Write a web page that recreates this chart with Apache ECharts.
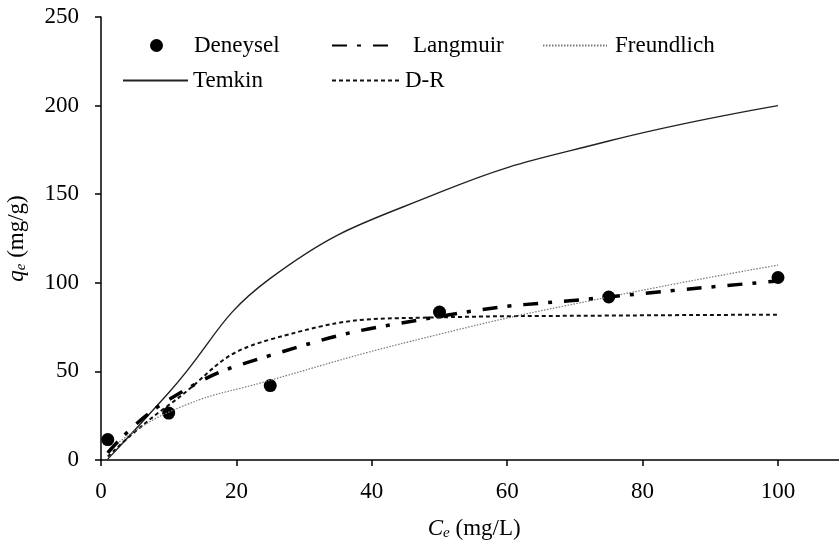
<!DOCTYPE html>
<html>
<head>
<meta charset="utf-8">
<script src="https://cdn.jsdelivr.net/npm/echarts@6/dist/echarts.min.js"></script>
<style>
  html, body { margin: 0; padding: 0; background: #fff; }
  #chart { width: 839px; height: 545px; }
</style>
</head>
<body>
<div id="chart"></div>
<script>
// Equilibrium concentration Ce (mg/L)
const ceValues = [1, 10, 25, 50, 75, 100];
// Measured uptake qe (mg/g)
const deneysel = [11.5, 26.5, 42, 83.5, 92, 103];
// Isotherm model curves at the same Ce values
const langmuir = [4, 34, 59, 81, 92, 101];
const freundlich = [5, 27, 45, 71, 92, 110];
const temkin = [0.5, 38, 102.5, 151, 180, 200];
const dr = [2, 31, 68, 80.5, 81.5, 82];

const xTicks = { min: 0, max: 120, interval: 20 };
const yTicks = { min: 0, max: 250, interval: 50 };

const FONT = "'Liberation Serif', 'Times New Roman', serif";
const FS = 23;
const pair = (ys) => ceValues.map((x, i) => [x, ys[i]]);

const chart = echarts.init(document.getElementById('chart'), null, { renderer: 'canvas' });

// one legend block per entry so each can sit where it belongs
function legendAt(name, left, top, w, textPad, isLine) {
  const lg = {
    data: [name], left: left, top: top, itemWidth: w, itemHeight: 13,
    padding: 0, selectedMode: false,
    textStyle: { fontFamily: FONT, fontSize: FS, color: '#000', padding: [0, 0, 0, textPad] }
  };
  if (isLine) lg.itemStyle = { opacity: 0 };
  return lg;
}

const axisLine = { show: true, lineStyle: { color: '#000', width: 1.5 } };
const axisTick = { show: true, inside: false, length: 6, lineStyle: { color: '#000', width: 1.5 } };
const subRich = {
  i: { fontFamily: FONT, fontSize: FS, fontStyle: 'italic' },
  s: { fontFamily: FONT, fontSize: 15, fontStyle: 'italic', verticalAlign: 'bottom', padding: [10, 0, 0, 0] }
};

chart.setOption({
  animation: false,
  backgroundColor: '#fff',
  grid: { left: 101, top: 17, width: 812.4, height: 443, containLabel: false, outerBoundsMode: 'none' },
  legend: [
    legendAt('Deneysel', 150, 34, 13, 26, false),
    legendAt('Langmuir', 331, 34, 58, 18, true),
    legendAt('Freundlich', 542, 34, 64, 3, true),
    legendAt('Temkin', 122, 69, 65, 0, true),
    legendAt('D-R', 331, 69, 68, 0, true)
  ],
  xAxis: {
    type: 'value', min: xTicks.min, max: xTicks.max, interval: xTicks.interval,
    axisLine: axisLine, axisTick: axisTick, splitLine: { show: false },
    axisLabel: { fontFamily: FONT, fontSize: FS, color: '#000', margin: 20 },
    name: '{i|C}{s|e} (mg/L)', nameLocation: 'middle', nameGap: 56,
    nameTextStyle: { fontFamily: FONT, fontSize: FS, color: '#000', rich: subRich, padding: [0, 66, 0, 0] }
  },
  yAxis: {
    type: 'value', min: yTicks.min, max: yTicks.max, interval: yTicks.interval,
    axisLine: axisLine, axisTick: axisTick, splitLine: { show: false },
    axisLabel: { fontFamily: FONT, fontSize: FS, color: '#000', margin: 22 },
    name: '{i|q}{s|e} (mg/g)', nameLocation: 'middle', nameGap: 72,
    nameTextStyle: { fontFamily: FONT, fontSize: FS, color: '#000', rich: subRich }
  },
  series: [
    {
      name: 'Temkin', type: 'line', data: pair(temkin), smooth: 0.45,
      symbol: 'none', lineStyle: { color: '#222', width: 1.4, type: 'solid' }, itemStyle: { color: '#222' }
    },
    {
      name: 'D-R', type: 'line', data: pair(dr), smooth: 0.5,
      symbol: 'none', lineStyle: { color: '#111', width: 2, type: [4, 3] }, itemStyle: { color: '#111' }
    },
    {
      name: 'Freundlich', type: 'line', data: pair(freundlich), smooth: 0.5,
      symbol: 'none', lineStyle: { color: '#777', width: 1.2, type: [1.5, 1.5] }, itemStyle: { color: '#777' }
    },
    {
      name: 'Langmuir', type: 'line', data: pair(langmuir), smooth: 0.5,
      symbol: 'none', lineStyle: { color: '#000', width: 3.5, type: [15, 10, 4, 12] }, itemStyle: { color: '#000' }
    },
    {
      name: 'Deneysel', type: 'scatter', data: pair(deneysel),
      symbol: 'circle', symbolSize: 13, itemStyle: { color: '#000', opacity: 1 }
    }
  ]
});
</script>
</body>
</html>
